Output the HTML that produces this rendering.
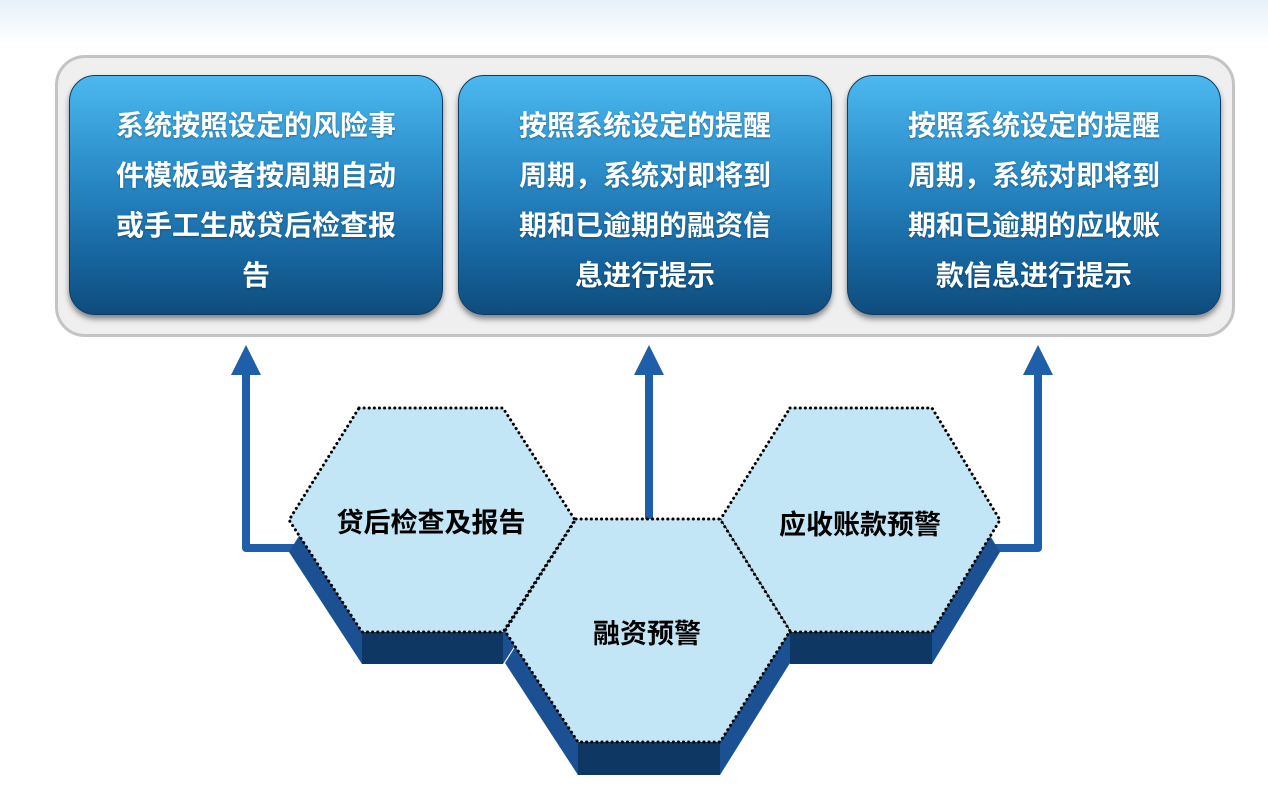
<!DOCTYPE html>
<html><head><meta charset="utf-8"><style>
html,body{margin:0;padding:0;}
body{width:1268px;height:796px;position:relative;overflow:hidden;background:linear-gradient(#e6f1fa 0px,#ffffff 45px);font-family:"Liberation Sans","Noto Sans CJK SC",sans-serif;}
.outer{position:absolute;left:55px;top:55px;width:1174px;height:276px;border:3px solid #c4c4c4;border-radius:30px;background:#efefef;}
.box{position:absolute;top:75px;width:374px;height:240px;border-radius:26px;background:linear-gradient(#4cb8f0 0%,#2a8cc8 40%,#1766a0 75%,#0f4c7c 100%);box-shadow:0 4px 6px rgba(0,0,0,0.45);border:1px solid #0c3d66;box-sizing:border-box;color:#fff;font-weight:bold;font-size:28px;line-height:50px;text-align:center;padding:25px 0 0;white-space:nowrap;text-shadow:0 1px 2px rgba(0,0,0,0.3);}
svg{position:absolute;left:0;top:0;}
</style></head><body>
<div class="outer"></div>
<div class="box" style="left:69px">系统按照设定的风险事<br>件模板或者按周期自动<br>或手工生成贷后检查报<br>告</div>
<div class="box" style="left:458px">按照系统设定的提醒<br>周期，系统对即将到<br>期和已逾期的融资信<br>息进行提示</div>
<div class="box" style="left:847px">按照系统设定的提醒<br>周期，系统对即将到<br>期和已逾期的应收账<br>款信息进行提示</div>
<svg width="1268" height="796" viewBox="0 0 1268 796">
<g fill="none" stroke="#1f5ea8" stroke-width="8" stroke-linejoin="round">
<polyline points="300,548 246,548 246,372"/>
<line x1="649" y1="520" x2="649" y2="372"/>
<polyline points="990,548 1038,548 1038,372"/>
</g>
<g fill="#1f5ea8">
<polygon points="231,375 261,375 246,345"/>
<polygon points="634,375 664,375 649,345"/>
<polygon points="1023,375 1053,375 1038,345"/>
</g>
<g stroke="#000" stroke-width="3" stroke-dasharray="0.1 5" stroke-linecap="round">
<polygon points="359,440 503,440 575,552 503,664 362,664 289,552" fill="#1b5192" stroke="none"/>
<rect x="362" y="632" width="141" height="32" fill="#0f3763" stroke="none"/>
<polygon points="359,408 503,408 575,520 503,632 362,632 289,520" fill="#c2e6f5"/>
<polygon points="790,440 932,440 1000,552 932,664 790,664 720,552" fill="#1b5192" stroke="none"/>
<rect x="790" y="632" width="142" height="32" fill="#0f3763" stroke="none"/>
<polygon points="790,408 932,408 1000,520 932,632 790,632 720,520" fill="#c2e6f5"/>
<polygon points="576,551 720,551 790,663 720,775 578,775 505,663" fill="#1b5192" stroke="none"/>
<rect x="578" y="742" width="142" height="33" fill="#0f3763" stroke="none"/>
<polygon points="576,519 720,519 790,631 720,742 578,742 505,631" fill="#c2e6f5"/>
</g>
<g font-family="Liberation Sans, Noto Sans CJK SC, sans-serif" font-weight="bold" font-size="27" text-anchor="middle" fill="#000">
<text x="431" y="532">贷后检查及报告</text>
<text x="860" y="534">应收账款预警</text>
<text x="647" y="643">融资预警</text>
</g>
</svg>
</body></html>
